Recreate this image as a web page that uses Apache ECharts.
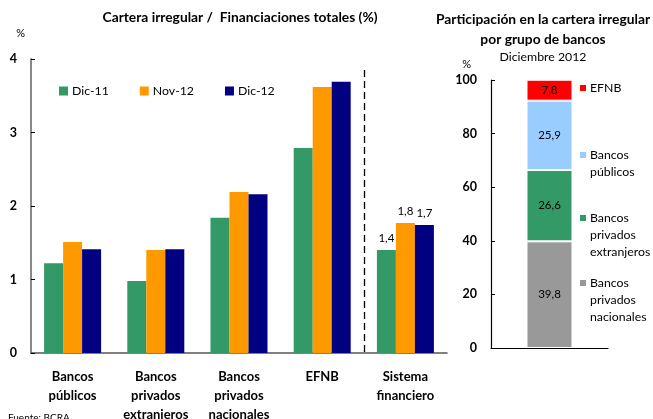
<!DOCTYPE html>
<html>
<head>
<meta charset="utf-8">
<script src="https://cdn.jsdelivr.net/npm/echarts@6/dist/echarts.min.js"></script>
<style>
  html, body { margin: 0; padding: 0; background: #fff; }
  #chart { width: 653px; height: 419px; }
</style>
</head>
<body>
<div id="chart"></div>
<script>
// Irregular portfolio / total financing (%), by bank group
const groups = ['Bancos\npúblicos', 'Bancos\nprivados\nextranjeros', 'Bancos\nprivados\nnacionales', 'EFNB', 'Sistema\nfinanciero'];
const dic11 = [1.22, 0.98, 1.84, 2.79, 1.40];
const nov12 = [1.51, 1.40, 2.19, 3.62, 1.77];
const dic12 = [1.41, 1.41, 2.16, 3.69, 1.74];
const periodNames = ['Dic-11', 'Nov-12', 'Dic-12'];
const periodColors = ['#339966', '#FF9900', '#000080'];
const leftTicks = [0, 1, 2, 3, 4];

// Share of the irregular portfolio, December 2012 (stack order bottom to top)
const shareNames = ['Bancos privados nacionales', 'Bancos privados extranjeros', 'Bancos públicos', 'EFNB'];
const shareValues = [39.8, 26.6, 25.9, 7.8];
const shareColors = ['#999999', '#339966', '#99CCFF', '#FF0000'];
const shareLegendText = {
  'EFNB': ['EFNB'],
  'Bancos públicos': ['Bancos', 'públicos'],
  'Bancos privados extranjeros': ['Bancos', 'privados', 'extranjeros'],
  'Bancos privados nacionales': ['Bancos', 'privados', 'nacionales']
};
const shareLegendTop = { 'EFNB': 88, 'Bancos públicos': 155, 'Bancos privados extranjeros': 218, 'Bancos privados nacionales': 283 };

const FONT = 'Lato';
const fmt = v => v.toFixed(1).replace('.', ',');
const LINE_H = 17;

const chart = echarts.init(document.getElementById('chart'), null, { renderer: 'canvas' });

const leftSeries = periodNames.map((name, i) => ({
  name,
  type: 'bar',
  xAxisIndex: 0,
  yAxisIndex: 0,
  barWidth: 19,
  barGap: '0%',
  itemStyle: { color: periodColors[i] },
  data: [dic11, nov12, dic12][i].map((v, j) => ({
    value: v,
    label: {
      show: j === groups.length - 1,
      position: 'top',
      distance: 6,
      formatter: p => fmt(p.value),
      fontFamily: FONT,
      fontSize: 11.5,
      color: '#000'
    }
  }))
}));

const rightSeries = shareNames.map((name, i) => ({
  name,
  type: 'bar',
  xAxisIndex: 1,
  yAxisIndex: 1,
  stack: 'share',
  barWidth: 46,
  itemStyle: { color: shareColors[i], borderColor: '#fff', borderWidth: 1 },
  label: {
    show: true,
    position: 'inside',
    formatter: p => fmt(p.value),
    fontFamily: FONT,
    fontSize: 11.5,
    color: '#000'
  },
  data: [shareValues[i]]
}));

// One legend block per group so each label sits beside its own swatch;
// blank leading lines keep the swatch level with the first text line.
const shareLegends = shareNames.slice().reverse().map(name => {
  const lines = shareLegendText[name];
  const n = lines.length;
  const total = 2 * n - 1;
  return {
    data: [name],
    orient: 'vertical',
    left: 578,
    top: shareLegendTop[name] - total * LINE_H / 2,
    padding: 0,
    itemWidth: 8,
    itemHeight: 8,
    selectedMode: false,
    icon: 'rect',
    formatter: () => new Array(n - 1).fill(' ').concat(lines).join('\n'),
    textStyle: { fontFamily: FONT, fontSize: 12.3, color: '#000', lineHeight: LINE_H, padding: [0, 0, 0, -2] }
  };
});

const titleStyle = { fontFamily: FONT, fontWeight: 'bold', fontSize: 13.8, color: '#000' };

const option = {
  animation: false,
  backgroundColor: '#fff',
  textStyle: { fontFamily: FONT },
  title: [
    { text: 'Cartera irregular /  Financiaciones totales (%)', left: 240, top: 11, padding: 0, textAlign: 'center',
      textStyle: titleStyle },
    { text: 'Participación en la cartera irregular\npor grupo de bancos', left: 543, top: 10, padding: 0, textAlign: 'center',
      textStyle: Object.assign({}, titleStyle, { lineHeight: 20 }) },
    { text: 'Diciembre 2012', left: 543, top: 51, padding: 0, textAlign: 'center',
      textStyle: { fontFamily: FONT, fontWeight: 'normal', fontSize: 12.3, color: '#000' } }
  ],
  legend: [
    {
      data: periodNames,
      left: 59,
      top: 85,
      padding: 0,
      itemWidth: 9,
      itemHeight: 9,
      itemGap: 31,
      selectedMode: false,
      icon: 'rect',
      textStyle: { fontFamily: FONT, fontSize: 12.3, color: '#000', padding: [0, 0, 0, -1] }
    }
  ].concat(shareLegends),
  grid: [
    { left: 31, right: 206, top: 59, bottom: 66, containLabel: false, outerBoundsMode: 'none' },
    { left: 491, right: 45, top: 80, bottom: 71, containLabel: false, outerBoundsMode: 'none' }
  ],
  xAxis: [
    {
      type: 'category', gridIndex: 0, data: groups,
      axisLine: { lineStyle: { color: '#555', width: 1.5 } },
      axisTick: { show: false },
      axisLabel: { fontFamily: FONT, fontWeight: 'bold', fontSize: 13, color: '#000', lineHeight: 19, margin: 14, interval: 0 }
    },
    {
      type: 'category', gridIndex: 1, data: [''],
      axisLine: { lineStyle: { color: '#000', width: 1.2 } },
      axisTick: { show: false },
      axisLabel: { show: false }
    }
  ],
  yAxis: [
    {
      type: 'value', gridIndex: 0, min: leftTicks[0], max: leftTicks[leftTicks.length - 1], interval: 1,
      name: '%', nameLocation: 'end', nameGap: 20,
      nameTextStyle: { fontFamily: FONT, fontSize: 11, color: '#000', align: 'right', padding: [0, 6, 0, 0] },
      axisLine: { show: true, lineStyle: { color: '#888', width: 2 } },
      axisTick: { show: true, inside: true, length: 4, lineStyle: { color: '#000' } },
      splitLine: { show: false },
      axisLabel: { fontFamily: FONT, fontWeight: 'bold', fontSize: 12.5, color: '#000', margin: 14 }
    },
    {
      type: 'value', gridIndex: 1, min: 0, max: 100, interval: 20,
      name: '%', nameLocation: 'end', nameGap: 10,
      nameTextStyle: { fontFamily: FONT, fontSize: 11, color: '#000', align: 'right', padding: [0, 20, 0, 0] },
      axisLine: { show: true, lineStyle: { color: '#000', width: 1.2 } },
      axisTick: { show: true, inside: true, length: 4, lineStyle: { color: '#000' } },
      splitLine: { show: false },
      axisLabel: { fontFamily: FONT, fontWeight: 'bold', fontSize: 12.5, color: '#000', margin: 14 }
    }
  ],
  series: leftSeries.concat(rightSeries)
};

chart.setOption(option);

// Dashed separator between the bank groups and the whole system
const xA = chart.convertToPixel({ xAxisIndex: 0 }, groups[3]);
const xB = chart.convertToPixel({ xAxisIndex: 0 }, groups[4]);
const xSep = Math.round((xA + xB) / 2) + 0.5;
const yTop = chart.convertToPixel({ yAxisIndex: 0 }, 3.85);
const yBase = chart.convertToPixel({ yAxisIndex: 0 }, 0);
chart.setOption({
  graphic: [
    { type: 'line', shape: { x1: xSep, y1: yTop, x2: xSep, y2: yBase },
      style: { stroke: '#000', lineWidth: 1.3, lineDash: [7, 4] } },
    { type: 'text', left: 8, top: 413,
      style: { text: 'Fuente: BCRA', fontFamily: FONT, fontSize: 10, fill: '#000' } }
  ]
});
</script>
</body>
</html>
